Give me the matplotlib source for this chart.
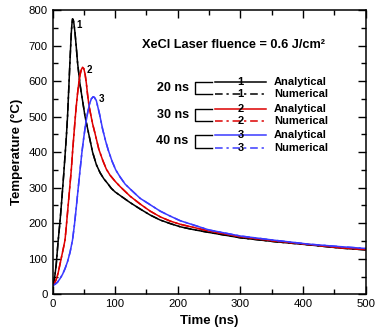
import matplotlib
matplotlib.use("Agg")
import matplotlib.pyplot as plt
from matplotlib.ticker import MultipleLocator

plt.rcParams['font.family'] = ['Liberation Sans', 'DejaVu Sans']

# ---- data ----
t_20 = [0, 2, 4, 6, 9, 12, 15, 18, 20, 22, 24, 26, 28, 30, 31, 32, 33, 34, 36, 38, 40, 44,
        48, 52, 58, 64, 70, 76, 82, 88, 94, 100, 108, 124, 140, 156, 172, 188, 204, 225, 250,
        300, 355, 410, 460, 500]
T_20 = [25, 32, 55, 85, 150, 205, 270, 340, 390, 440, 500, 580, 660, 735, 760, 775, 773, 765,
        735, 695, 652, 590, 545, 500, 450, 400, 365, 342, 325, 312, 298, 288, 278, 258, 240,
        223, 209, 199, 190, 182, 174, 159, 148, 139, 130, 125]

t_30 = [0, 3, 6, 9, 12, 15, 18, 20, 22, 24, 26, 28, 30, 32, 34, 36, 38, 40, 42, 44, 46, 48,
        50, 52, 54, 56, 58, 60, 64, 68, 74, 80, 86, 92, 100, 108, 124, 140, 156, 172, 188, 204,
        250, 300, 355, 410, 460, 500]
T_30 = [25, 30, 42, 60, 85, 110, 135, 153, 190, 230, 270, 310, 350, 400, 445, 490, 530, 565,
        595, 618, 632, 639, 635, 620, 595, 562, 535, 515, 480, 452, 408, 378, 352, 335, 318,
        303, 276, 254, 234, 218, 206, 197, 178, 162, 150, 140, 131, 126]

t_40 = [0, 4, 8, 12, 16, 20, 24, 28, 32, 35, 38, 41, 44, 47, 50, 53, 56, 59, 62, 65, 67, 70,
        75, 80, 85, 89, 95, 101, 108, 116, 126, 140, 156, 172, 188, 204, 250, 300, 355, 410,
        460, 500]
T_40 = [25, 28, 34, 44, 56, 72, 92, 118, 153, 195, 245, 298, 350, 400, 442, 480, 510, 535,
        550, 556, 554, 545, 508, 465, 430, 406, 375, 350, 330, 310, 293, 270, 252, 234, 220,
        207, 181, 164, 152, 141, 134, 129]

curves = [(t_20, T_20, 'black', '1'), (t_30, T_30, '#dd0000', '2'), (t_40, T_40, '#3a3aff', '3')]
pulse_labels = ['20 ns', '30 ns', '40 ns']
peak_label_pos = [(42, 757), (59, 630), (78, 549)]

x_ticks = [0, 100, 200, 300, 400, 500]
y_ticks = [0, 100, 200, 300, 400, 500, 600, 700, 800]

dashdot = (0, (5, 2.5, 1.5, 2.5))

# ---- figure ----
fig = plt.figure(figsize=(3.75, 3.29), dpi=100)
ax = fig.add_axes([0.14, 0.1055, 0.835, 0.864])

for (t, T, c, n) in curves:
    ax.plot(t, T, color=c, lw=1.1, ls='-')
    ax.plot(t, T, color=c, lw=1.1, ls=dashdot)

for (t, T, c, n), (px, py) in zip(curves, peak_label_pos):
    ax.text(px, py, n, fontsize=7, fontweight='bold', ha='center', va='center')

ax.set_xlim(0, 500)
ax.set_ylim(0, 800)
ax.set_xticks(x_ticks)
ax.set_yticks(y_ticks)
ax.xaxis.set_minor_locator(MultipleLocator(50))
ax.yaxis.set_minor_locator(MultipleLocator(50))
ax.tick_params(which='both', direction='in', top=True, right=True, labelsize=8.2, width=1.0)
ax.tick_params(which='major', length=6)
ax.tick_params(which='minor', length=3.5)
for s in ax.spines.values():
    s.set_linewidth(1.1)

ax.set_xlabel('Time (ns)', fontsize=9.5, fontweight='bold', labelpad=4)
ax.set_ylabel('Temperature (°C)', fontsize=9.5, fontweight='bold', labelpad=4)

# title-like annotation
ax.text(0.286, 0.877, 'XeCl Laser fluence = 0.6 J/cm²', transform=ax.transAxes,
        fontsize=9.2, fontweight='bold', ha='left', va='center')

# custom legend
row_y = [(0.748, 0.704), (0.652, 0.611), (0.560, 0.516)]
bx0, bx1 = 0.455, 0.509
lx0, lx1 = 0.519, 0.682
for (ya, yn), (t, T, c, n), lab in zip(row_y, curves, pulse_labels):
    ax.plot([bx1, bx0, bx0, bx1], [ya, ya, yn, yn], color='black', lw=1.0,
            transform=ax.transAxes, clip_on=False)
    ax.plot([lx0, lx1], [ya, ya], color=c, lw=1.1, transform=ax.transAxes)
    ax.plot([lx0, lx1], [yn, yn], color=c, lw=1.1, ls=dashdot, transform=ax.transAxes)
    xm = (lx0 + lx1) / 2
    ax.text(xm, ya, n, transform=ax.transAxes, fontsize=8, fontweight='bold',
            ha='center', va='center')
    ax.text(xm, yn, n, transform=ax.transAxes, fontsize=8, fontweight='bold',
            ha='center', va='center')
    ax.text(0.707, ya, 'Analytical', transform=ax.transAxes, fontsize=8,
            fontweight='bold', ha='left', va='center')
    ax.text(0.707, yn, 'Numerical', transform=ax.transAxes, fontsize=8,
            fontweight='bold', ha='left', va='center')
    ax.text(0.435, (ya + yn) / 2, lab, transform=ax.transAxes, fontsize=9,
            fontweight='bold', ha='right', va='center')

fig.savefig('out.png', dpi=100)
